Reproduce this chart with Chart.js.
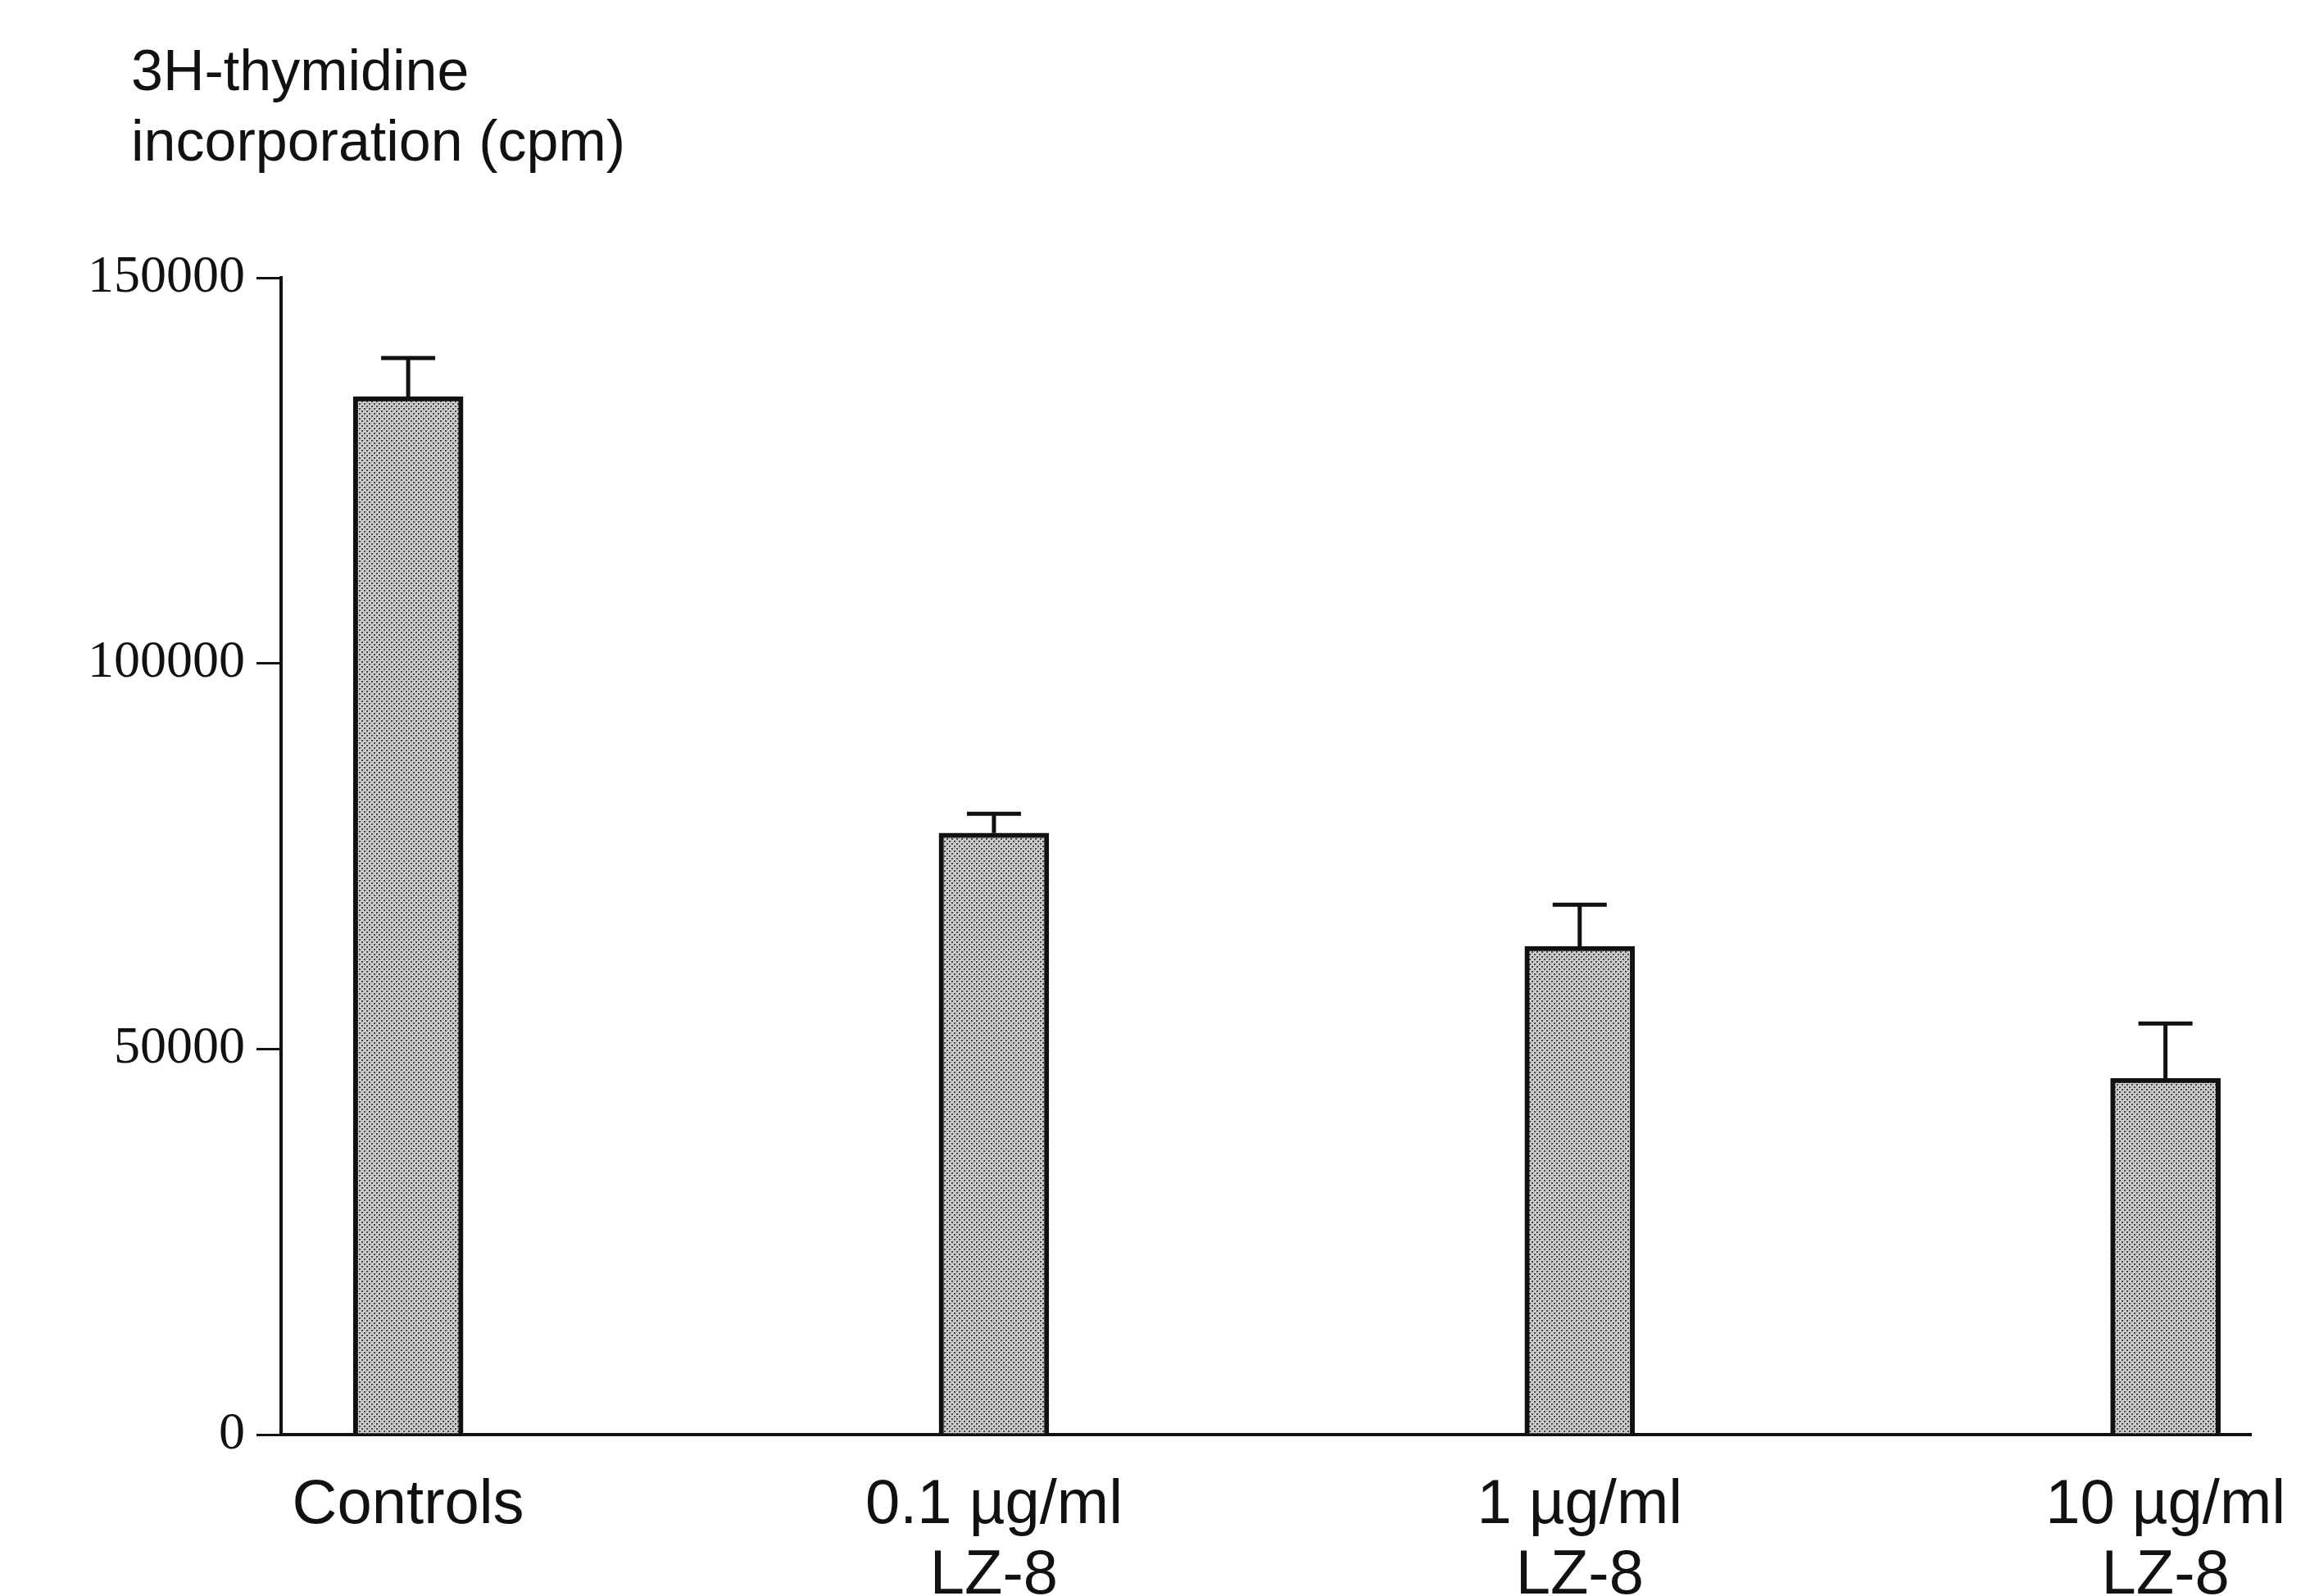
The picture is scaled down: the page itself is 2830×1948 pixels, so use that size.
<!DOCTYPE html>
<html><head><meta charset="utf-8">
<script src="https://cdn.jsdelivr.net/npm/chart.js@4/dist/chart.umd.min.js"></script>
<style>html,body{margin:0;padding:0;background:#fff;overflow:hidden}#w{width:2830px;height:1948px}</style>
</head><body><div id="w"><canvas id="c" width="2830" height="1948"></canvas></div>
<script>
const categories = [["Controls"], ["0.1 µg/ml", "LZ-8"], ["1 µg/ml", "LZ-8"], ["10 µg/ml", "LZ-8"]];
const values = [134600, 78000, 63300, 46200];
const errors = [5000, 2500, 5400, 7100];
const yTicks = [0, 50000, 100000, 150000];
const titleLines = ["3H-thymidine", "incorporation (cpm)"];

const ctx = document.getElementById('c').getContext('2d');
const pc = document.createElement('canvas'); pc.width = 6; pc.height = 6;
const p = pc.getContext('2d');
p.fillStyle = '#d0d0d0'; p.fillRect(0,0,6,6);
p.fillStyle = '#444'; p.fillRect(0,0,2,2); p.fillRect(3,3,2,2);
p.fillStyle = '#888'; p.fillRect(3,0,1,1); p.fillRect(0,3,1,1);
const pattern = ctx.createPattern(pc, 'repeat');

const extras = {
  id: 'extras',
  afterDatasetsDraw(chart) {
    const c = chart.ctx, x = chart.scales.x, y = chart.scales.y;
    c.save();
    c.strokeStyle = '#111'; c.lineWidth = 5;
    values.forEach((v, i) => {
      const px = x.getPixelForValue(i);
      const t = y.getPixelForValue(v), e = y.getPixelForValue(v + errors[i]);
      c.beginPath(); c.moveTo(px, t); c.lineTo(px, e);
      c.moveTo(px - 33, e); c.lineTo(px + 33, e); c.stroke();
    });
    c.fillStyle = '#111'; c.textAlign = 'center'; c.textBaseline = 'alphabetic';
    c.font = '76px "Liberation Sans", Arial, sans-serif';
    categories.forEach((lines, i) => {
      const px = x.getPixelForValue(i);
      lines.forEach((l, j) => c.fillText(l, px, 1859 + j * 86));
    });
    c.textAlign = 'left'; c.font = '70px "Liberation Sans", Arial, sans-serif';
    titleLines.forEach((l, j) => c.fillText(l, 160, 110 + j * 86));
    c.restore();
  }
};

new Chart(ctx, {
  type: 'bar',
  data: { datasets: [{ data: values.map((v, i) => ({x: i, y: v})), backgroundColor: pattern, borderColor: '#111', borderWidth: 6, barThickness: 134 }] },
  options: {
    responsive: false, animation: false, events: [],
    layout: { padding: { top: 339, right: 83, left: 0, bottom: 0 } },
    plugins: { legend: { display: false }, tooltip: { enabled: false } },
    scales: {
      x: { type: 'linear', min: -0.217, max: 3.146, offset: false,
        ticks: { display: false }, grid: { display: false, drawTicks: false },
        border: { display: true, color: '#111', width: 4 },
        afterFit(s) { s.height = 197; } },
      y: { min: 0, max: 150000,
        afterBuildTicks(s) { s.ticks = yTicks.map(v => ({value: v})); },
        ticks: { color: '#111', padding: 14, callback: v => String(v), font: { family: '"Liberation Serif", "Times New Roman", serif', size: 64 } },
        grid: { display: true, drawOnChartArea: false, drawTicks: true, tickLength: 30, color: '#111', lineWidth: 3 },
        border: { display: true, color: '#111', width: 4 },
        afterFit(s) { s.width = 343; } }
    }
  },
  plugins: [extras]
});
</script></body></html>
